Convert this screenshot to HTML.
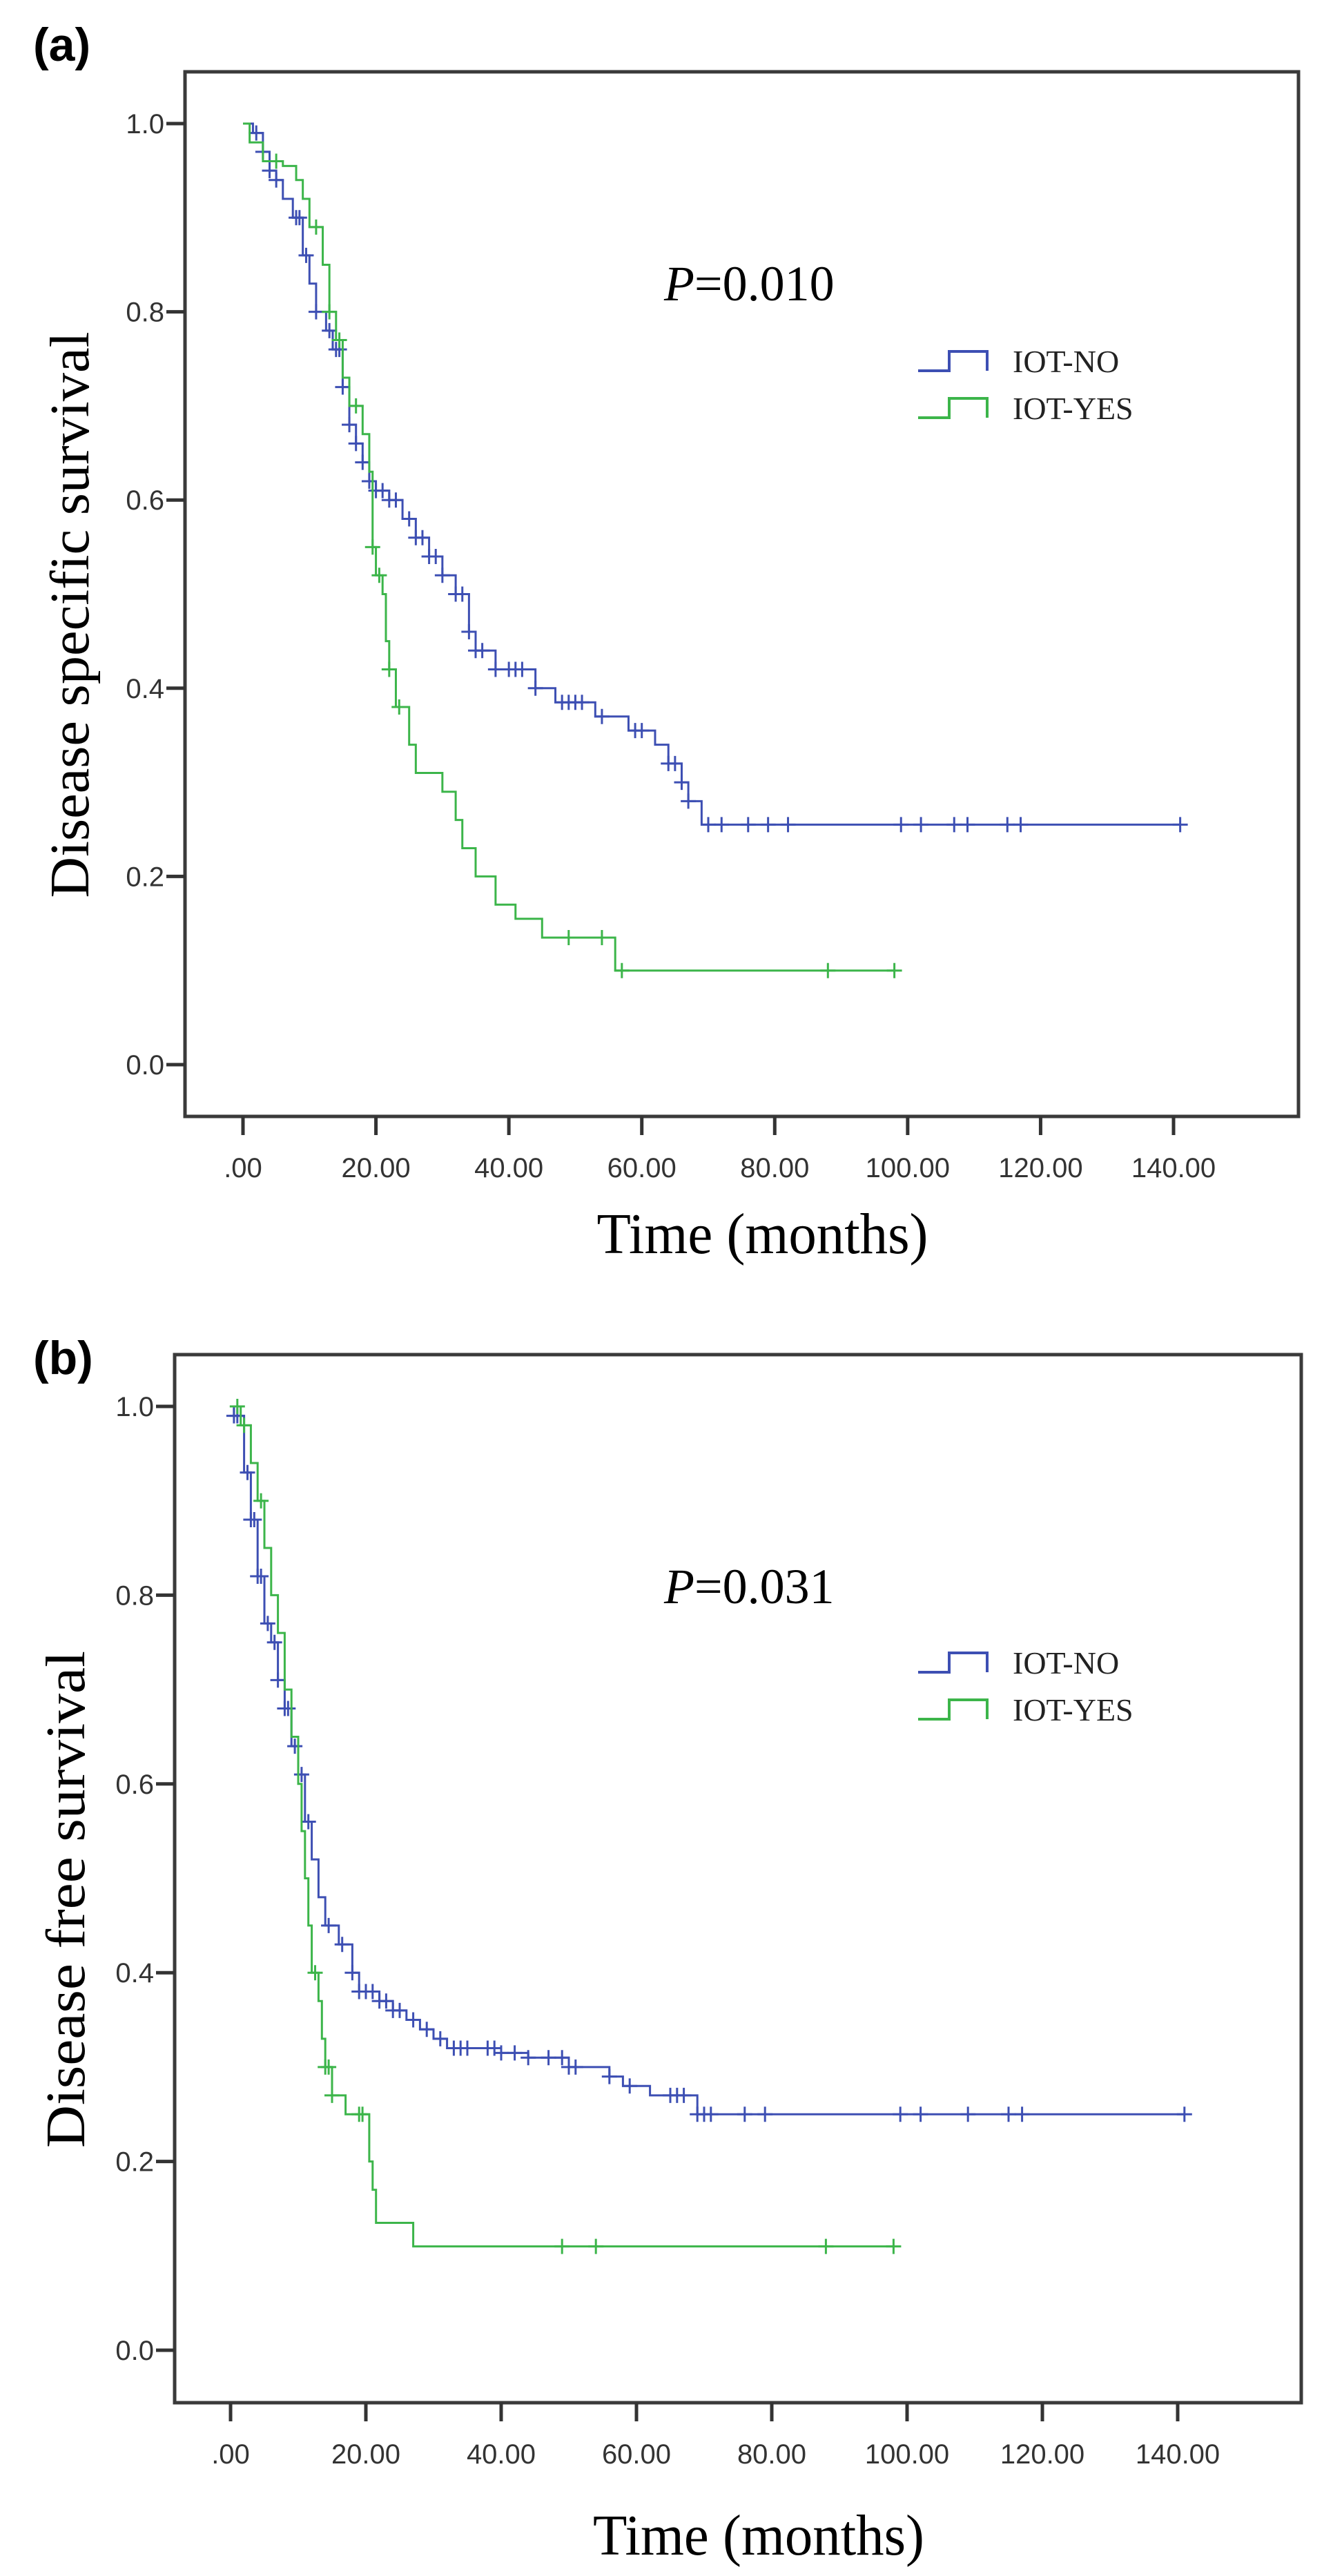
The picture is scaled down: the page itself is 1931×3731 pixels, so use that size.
<!DOCTYPE html>
<html><head><meta charset="utf-8"><style>
html,body{margin:0;padding:0;background:#fff;}
svg{display:block;}
</style></head><body>
<svg id="fig" width="1931" height="3731" viewBox="0 0 1931 3731" xmlns="http://www.w3.org/2000/svg"></svg>
<script>
// Panel (a) Disease specific survival
const aBlueT = [0,1.5,3,4,5,6,7.5,9,10,11,12.5,13.5,15,16,17,18,19,20,22,24,26,28,30,32,34,35,38,44,47,53,58,62,64,66,67,69,141];
const aBlueS = [1.0,0.99,0.97,0.95,0.94,0.92,0.90,0.86,0.83,0.80,0.78,0.76,0.72,0.68,0.66,0.64,0.62,0.61,0.60,0.58,0.56,0.54,0.52,0.50,0.46,0.44,0.42,0.40,0.385,0.37,0.355,0.34,0.32,0.30,0.28,0.255,0.255];
const aBlueCensT = [2,3,4,5,8,8.5,9.5,11,13,14,14.5,15,16,17,18,19,20,21,22,23,25,26,27,28,29,30,32,33,34,35,36,38,40,41,42,44,48,49,50,51,54,59,60,64,65,66,67,70,72,76,79,82,99,102,107,109,115,117,141];
const aGreenT = [0,1,3,6,8,9,10,12,13,14,15,16,18,19,19.5,20,21,21.5,22,23,25,26,30,32,33,35,38,41,45,56,98];
const aGreenS = [1.0,0.98,0.96,0.955,0.94,0.92,0.89,0.85,0.80,0.77,0.73,0.70,0.67,0.63,0.55,0.52,0.50,0.45,0.42,0.38,0.34,0.31,0.29,0.26,0.23,0.20,0.17,0.155,0.135,0.10,0.10];
const aGreenCensT = [5,11,13,14.5,17,19.5,20.5,22,23.5,49,54,57,88,98];
// Panel (b) Disease free survival
const bBlueT = [0,0.5,2,3,4,5,6,7,8,9,10,11,12,13,14,16,18,19,22,24,26,28,30,32,40,44,50,56,58,62,69,141];
const bBlueS = [1.0,0.99,0.93,0.88,0.82,0.77,0.75,0.71,0.68,0.64,0.61,0.56,0.52,0.48,0.45,0.43,0.40,0.38,0.37,0.36,0.35,0.34,0.33,0.32,0.315,0.31,0.30,0.29,0.28,0.27,0.25,0.25];
const bBlueCensT = [0.5,1,2.5,3,3.5,4,4.5,5.5,6.5,7,8,8.5,9.5,10.5,11.5,14.5,16.5,18,19,20,21,22,23,24,25,27,29,31,33,34,35,38,39,40,42,44,47,49,50,51,56,59,65,66,67,69,70,71,76,79,99,102,109,115,117,141];
const bGreenT = [0,1.5,3,4,5,6,7,8,9,10,10.5,11,11.5,12,13,13.5,14,15,17,20.5,21,21.5,27,98];
const bGreenS = [1.0,0.98,0.94,0.90,0.85,0.80,0.76,0.70,0.65,0.60,0.55,0.50,0.45,0.40,0.37,0.33,0.30,0.27,0.25,0.20,0.17,0.135,0.11,0.11];
const bGreenCensT = [1,2,4.5,12.5,14,14.5,15,19,19.5,49,54,88,98];
const xTicks = [0,20,40,60,80,100,120,140];
const xTickLabels = [".00","20.00","40.00","60.00","80.00","100.00","120.00","140.00"];
const yTicks = [0,0.2,0.4,0.6,0.8,1.0];
const yTickLabels = ["0.0","0.2","0.4","0.6","0.8","1.0"];

const NS = "http://www.w3.org/2000/svg";
const svg = document.getElementById('fig');
function mk(tag, attrs, parent){const e=document.createElementNS(NS,tag);for(const k in attrs)e.setAttribute(k,attrs[k]);(parent||svg).appendChild(e);return e;}
function stepAt(T,S,t){let s=S[0];for(let i=0;i<T.length;i++){if(T[i]<=t)s=S[i];}return s;}

function panel(cfg){
  const g = mk('g',{});
  
  
  const X = t => cfg.x0 + (cfg.x140 - cfg.x0) * t / 140;
  const Y = s => cfg.y0 + (cfg.y1 - cfg.y0) * s;
  const lab = mk('text',{x:cfg.labX,y:cfg.labY,'font-family':'Liberation Sans, sans-serif','font-weight':'bold','font-size':'68',fill:'#000'},g);
  lab.textContent = cfg.label;
  
  
  const fr = mk('rect',{x:cfg.fl,y:cfg.ft,width:cfg.fr-cfg.fl,height:cfg.fb-cfg.ft,fill:'none',stroke:'#3a3a3a','stroke-width':5},g);
  
  
  yTicks.forEach((v,i)=>{
    const y=Y(v);
    const tk=mk('line',{x1:cfg.fl-27,x2:cfg.fl,y1:y,y2:y,stroke:'#333','stroke-width':5},g);
    
    
    const t=mk('text',{x:cfg.fl-30,y:y+14,'text-anchor':'end','font-family':'Liberation Sans, sans-serif','font-size':'40',fill:'#333'},g);
    t.textContent=yTickLabels[i];
    
    
  });
  xTicks.forEach((v,i)=>{
    const x=X(v);
    const tk=mk('line',{x1:x,x2:x,y1:cfg.fb,y2:cfg.fb+27,stroke:'#333','stroke-width':5},g);
    
    
    const t=mk('text',{x:x,y:cfg.fb+88,'text-anchor':'middle','font-family':'Liberation Sans, sans-serif','font-size':'40',fill:'#333'},g);
    t.textContent=xTickLabels[i];
    
    
  });
  const xl=mk('text',{x:(cfg.fl+cfg.fr)/2+30,y:cfg.xlY,'text-anchor':'middle','font-family':'Liberation Serif, serif','font-size':'84',fill:'#000',textLength:480,lengthAdjust:'spacingAndGlyphs'},g);
  xl.textContent='Time (months)';
  
  
  const ycx=cfg.ylX, ycy=(cfg.ft+cfg.fb)/2+30;
  const yl=mk('text',{x:ycx,y:ycy,'text-anchor':'middle','font-family':'Liberation Serif, serif','font-size':'80',fill:'#000',transform:`rotate(-90 ${ycx} ${ycy})`,textLength:cfg.ylLen,lengthAdjust:'spacingAndGlyphs'},g);
  yl.textContent=cfg.ytitle;
  
  
  const p=mk('text',{x:cfg.pX,y:cfg.pY,'font-family':'Liberation Serif, serif','font-size':'72',fill:'#000'},g);
  const pi=mk('tspan',{'font-style':'italic'},p); pi.textContent='P';
  const pr=mk('tspan',{},p); pr.textContent=cfg.pval;
  
  
  const series=[
    {T:cfg.bT,S:cfg.bS,C:cfg.bC,col:'#3d4fb3',name:'iot-no-curve'},
    {T:cfg.gT,S:cfg.gS,C:cfg.gC,col:'#3cb54a',name:'iot-yes-curve'}];
  series.forEach(sr=>{
    let d=`M${X(sr.T[0])},${Y(sr.S[0])}`;
    for(let i=1;i<sr.T.length;i++){d+=` H${X(sr.T[i])} V${Y(sr.S[i])}`;}
    const path=mk('path',{d:d,fill:'none',stroke:sr.col,'stroke-width':3},g);
    
    
    sr.C.forEach(t=>{
      const x=X(t), y=Y(stepAt(sr.T,sr.S,t));
      const c=mk('path',{d:`M${x-11},${y} H${x+11} M${x},${y-11} V${y+11}`,stroke:sr.col,'stroke-width':3,fill:'none'},g);
      
      
    });
  });
  [['IOT-NO','#3d4fb3',cfg.legY],['IOT-YES','#3cb54a',cfg.legY+68]].forEach(([txt,col,ly])=>{
    const lg=mk('g',{},g);
    
    
    mk('path',{d:`M${cfg.legX},${ly+12} H${cfg.legX+45} V${ly-16} H${cfg.legX+100} V${ly+12}`,fill:'none',stroke:col,'stroke-width':4},lg);
    const t=mk('text',{x:cfg.legX+137,y:ly+14,'font-family':'Liberation Serif, serif','font-size':'46',fill:'#222'},lg);
    t.textContent=txt;
  });
}
panel({name:'panel-a-disease-specific',label:'(a)',labX:48,labY:88,fl:268,ft:104,fr:1881,fb:1617,
  x0:352,x140:1700,y0:1542,y1:179,xlY:1815,ylX:128,ylLen:820,ytitle:'Disease specific survival',
  pX:962,pY:435,pval:'=0.010',legX:1330,legY:525,
  bT:aBlueT,bS:aBlueS,bC:aBlueCensT,gT:aGreenT,gS:aGreenS,gC:aGreenCensT});
panel({name:'panel-b-disease-free',label:'(b)',labX:48,labY:1990,fl:253,ft:1962,fr:1885,fb:3480,
  x0:334,x140:1706,y0:3404,y1:2037,xlY:3700,ylX:122,ylLen:720,ytitle:'Disease free survival',
  pX:962,pY:2322,pval:'=0.031',legX:1330,legY:2410,
  bT:bBlueT,bS:bBlueS,bC:bBlueCensT,gT:bGreenT,gS:bGreenS,gC:bGreenCensT});
</script>
</body></html>
